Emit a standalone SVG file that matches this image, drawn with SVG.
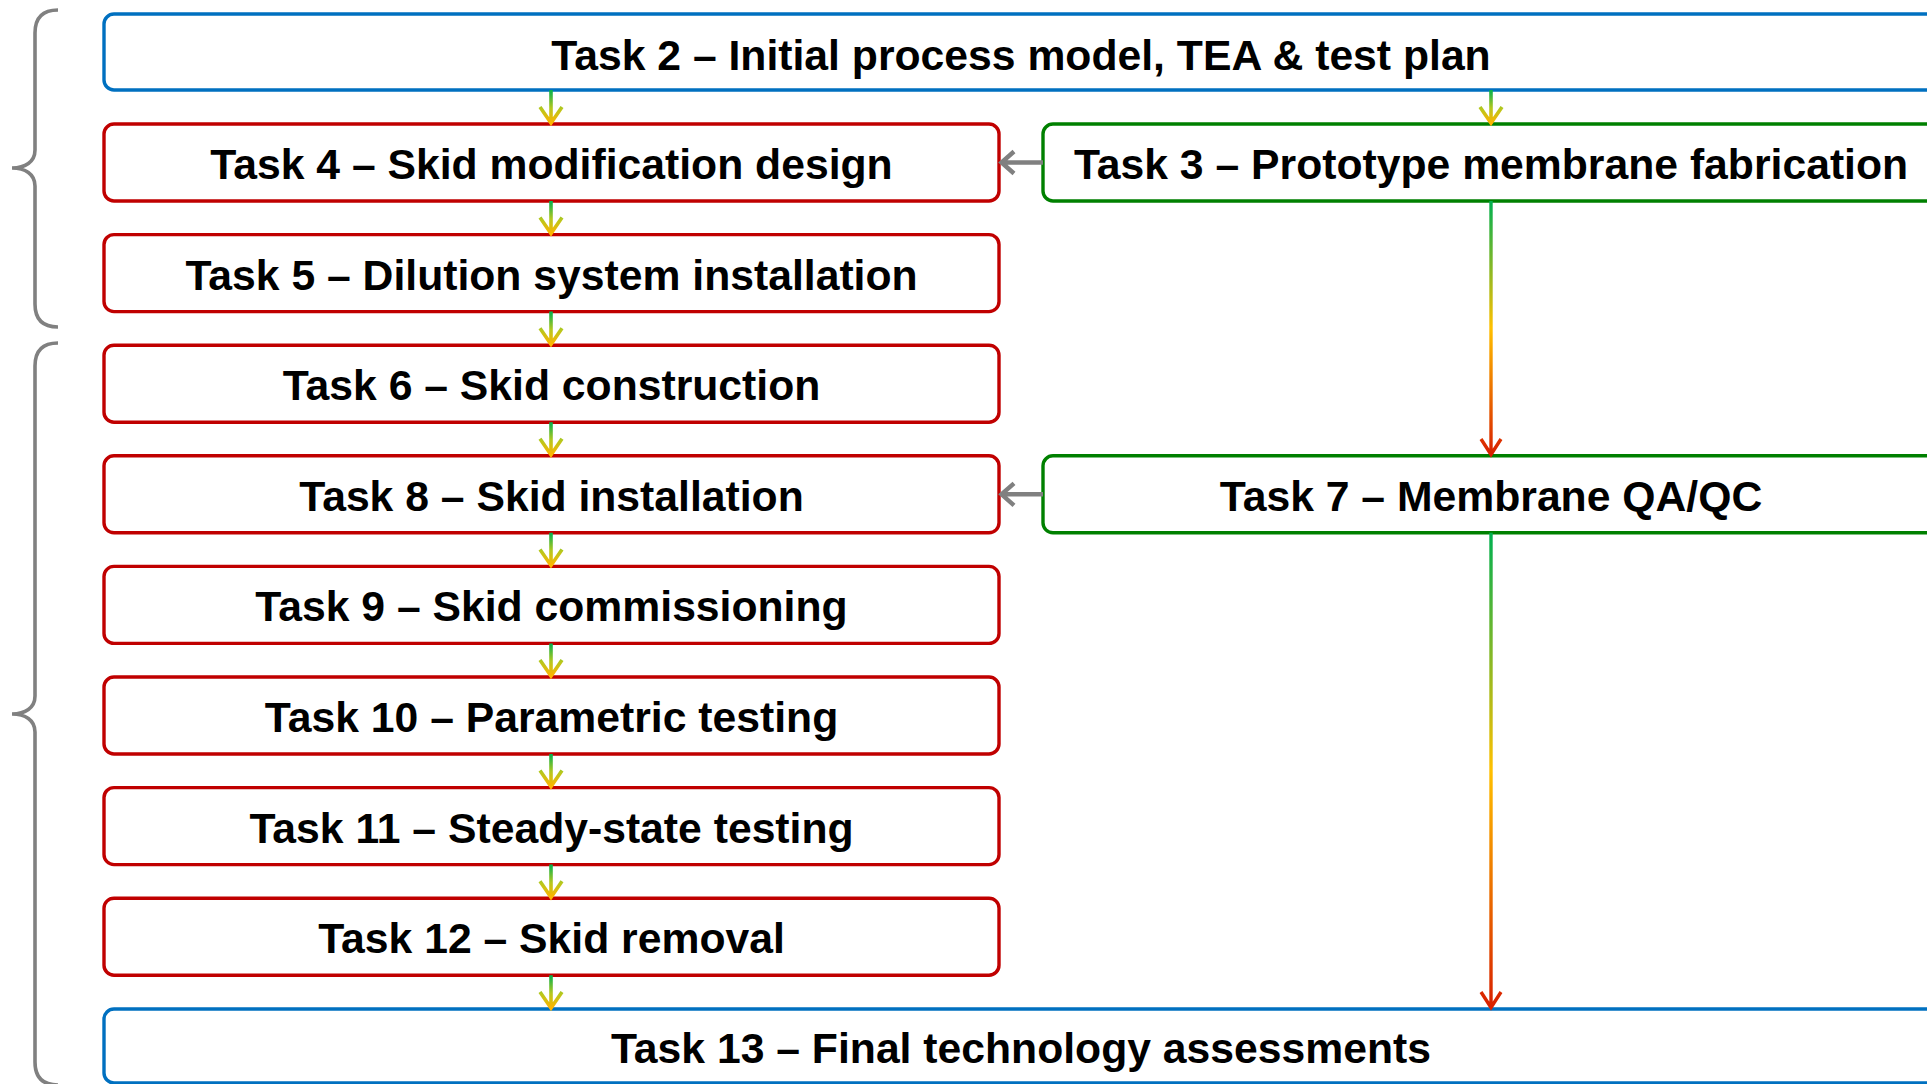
<svg xmlns="http://www.w3.org/2000/svg" width="1927" height="1084" viewBox="0 0 1927 1084">
<defs>
<linearGradient id="gShort" x1="0" y1="0" x2="0" y2="1">
<stop offset="0" stop-color="#00b050"/>
<stop offset="0.55" stop-color="#b4c81e"/>
<stop offset="1" stop-color="#ffb400"/>
</linearGradient>
<linearGradient id="gLong" x1="0" y1="0" x2="0" y2="1">
<stop offset="0" stop-color="#00b050"/>
<stop offset="0.5" stop-color="#ffc000"/>
<stop offset="1" stop-color="#d82000"/>
</linearGradient>
<style>
.box{fill:#fff;stroke-width:3.4}
.blue{stroke:#0070c0}
.red{stroke:#c00000}
.green{stroke:#008000}
.t{font-family:"Liberation Sans",Arial,sans-serif;font-weight:bold;font-size:42.7px;fill:#000;text-anchor:middle}
.short{fill:none;stroke:url(#gShort);stroke-width:3.6}
.long{fill:none;stroke:url(#gLong);stroke-width:3.4}
.gray{fill:none;stroke:#808080;stroke-width:4.4}
.brace{fill:none;stroke:#808080;stroke-width:3.6}
</style>
</defs>
<rect x="0" y="0" width="1927" height="1084" fill="#fff"/>
<g id="braces">
<path class="brace" d="M58,10 Q35,10 35,33 V150 C35,162 25,168 12,168 C25,168 35,174 35,186 V304 Q35,327 58,327"/>
<path class="brace" d="M58,343 Q35,343 35,366 V696 C35,708 25,714 12,714 C25,714 35,720 35,732 V1062 Q35,1085 58,1085"/>
</g>
<g id="task2"><rect class="box blue" x="104" y="14" width="1836" height="76" rx="10"/><text class="t" x="1021" y="70">Task 2 – Initial process model, TEA &amp; test plan</text></g>
<g id="task4"><rect class="box red" x="104" y="124" width="895" height="77" rx="10"/><text class="t" x="551.5" y="179">Task 4 – Skid modification design</text></g>
<g id="task3"><rect class="box green" x="1043" y="124" width="900" height="77" rx="10"/><text class="t" x="1491" y="179">Task 3 – Prototype membrane fabrication</text></g>
<g id="task5"><rect class="box red" x="104" y="234.6" width="895" height="77" rx="10"/><text class="t" x="551.5" y="289.6">Task 5 – Dilution system installation</text></g>
<g id="task6"><rect class="box red" x="104" y="345.2" width="895" height="77" rx="10"/><text class="t" x="551.5" y="400.2">Task 6 – Skid construction</text></g>
<g id="task8"><rect class="box red" x="104" y="455.8" width="895" height="77" rx="10"/><text class="t" x="551.5" y="510.8">Task 8 – Skid installation</text></g>
<g id="task7"><rect class="box green" x="1043" y="455.8" width="900" height="77" rx="10"/><text class="t" x="1491" y="510.8">Task 7 – Membrane QA/QC</text></g>
<g id="task9"><rect class="box red" x="104" y="566.4" width="895" height="77" rx="10"/><text class="t" x="551.5" y="621.4">Task 9 – Skid commissioning</text></g>
<g id="task10"><rect class="box red" x="104" y="677" width="895" height="77" rx="10"/><text class="t" x="551.5" y="732">Task 10 – Parametric testing</text></g>
<g id="task11"><rect class="box red" x="104" y="787.6" width="895" height="77" rx="10"/><text class="t" x="551.5" y="842.6">Task 11 – Steady-state testing</text></g>
<g id="task12"><rect class="box red" x="104" y="898.2" width="895" height="77" rx="10"/><text class="t" x="551.5" y="953.2">Task 12 – Skid removal</text></g>
<g id="task13"><rect class="box blue" x="104" y="1009" width="1836" height="74" rx="10"/><text class="t" x="1021" y="1063">Task 13 – Final technology assessments</text></g>
<g id="connectors">
<path class="short" d="M551,90 V123 M540,107 L551,123 L562,107"/>
<path class="short" d="M1491,90 V123 M1480,107 L1491,123 L1502,107"/>
<path class="short" d="M551,201 V233.6 M540,217.6 L551,233.6 L562,217.6"/>
<path class="short" d="M551,311.6 V344.2 M540,328.2 L551,344.2 L562,328.2"/>
<path class="short" d="M551,422.2 V454.8 M540,438.8 L551,454.8 L562,438.8"/>
<path class="short" d="M551,532.8 V565.4 M540,549.4 L551,565.4 L562,549.4"/>
<path class="short" d="M551,643.4 V676 M540,660 L551,676 L562,660"/>
<path class="short" d="M551,754 V786.6 M540,770.6 L551,786.6 L562,770.6"/>
<path class="short" d="M551,864.6 V897.2 M540,881.2 L551,897.2 L562,881.2"/>
<path class="short" d="M551,975.2 V1008 M540,992 L551,1008 L562,992"/>
<path class="long" d="M1491,201 V454.5 M1481,439 L1491,454.5 L1501,439"/>
<path class="long" d="M1491,532.8 V1007.5 M1481,992 L1491,1007.5 L1501,992"/>
<path class="gray" d="M1043,162.5 H1001.5 M1014,151.5 L1001.5,162.5 L1014,173.5"/>
<path class="gray" d="M1043,494.3 H1001.5 M1014,483.3 L1001.5,494.3 L1014,505.3"/>
</g>
</svg>
